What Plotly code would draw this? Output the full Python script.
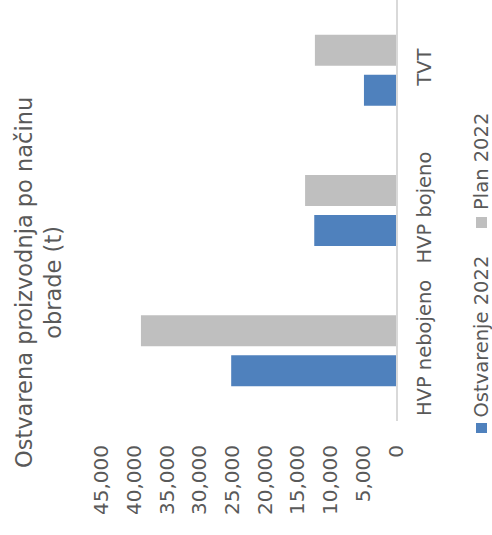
import plotly.graph_objects as go

categories = ["HVP nebojeno", "HVP bojeno", "TVT"]
ostvarenje_2022 = [25200, 12500, 4900]
plan_2022 = [39000, 13900, 12400]
series_names = ["Ostvarenje 2022", "Plan 2022"]
series_colors = ["#4F81BD", "#BFBFBF"]
value_ticks = [0, 5000, 10000, 15000, 20000, 25000, 30000, 35000, 40000, 45000]
title_text = "Ostvarena proizvodnja po načinu<br>obrade (t)"

W, H = 492, 535
FONT = "DejaVu Sans"
GREY = "#595959"

def px(x):
    return x / W

def py(y):
    return 1 - y / H

fig = go.Figure()
for name, vals, col in zip(series_names, [ostvarenje_2022, plan_2022], series_colors):
    fig.add_trace(go.Bar(
        y=categories, x=vals, name=name, orientation="h",
        marker=dict(color=col, line=dict(width=0)), showlegend=False,
    ))

fig.update_layout(
    template="none",
    width=W, height=H,
    margin=dict(l=0, r=0, t=0, b=0, autoexpand=False),
    paper_bgcolor="white", plot_bgcolor="white",
    barmode="group", bargap=0.43, bargroupgap=0.225,
    font=dict(family=FONT, color=GREY, size=20),
    xaxis=dict(
        domain=[px(101.7), px(396)], automargin=False,
        range=[45000, 0], autorange=False,
        tickvals=value_ticks, tickformat=",",
        tickangle=-90, showgrid=False, zeroline=False, showline=False,
        ticks="outside", ticklen=15, tickcolor="rgba(0,0,0,0)",
        tickfont=dict(family=FONT, size=20, color=GREY),
    ),
    yaxis=dict(
        domain=[py(421), 1], automargin=False,
        type="category", range=[-0.5, 2.5], autorange=False,
        side="right", showline=True, linecolor="#D9D9D9", linewidth=1.5,
        showgrid=False, zeroline=False,
        tickangle=-90, ticks="outside", ticklen=10, tickcolor="rgba(0,0,0,0)",
        tickfont=dict(family=FONT, size=19.5, color=GREY),
    ),
)

# Title (rotated)
fig.add_annotation(
    text=title_text, x=px(38), y=py(283), xref="paper", yref="paper",
    xanchor="center", yanchor="middle", textangle=-90, showarrow=False,
    font=dict(family=FONT, size=22.5, color=GREY),
)

# Custom rotated legend
legend_items = [
    (series_names[0], series_colors[0], 336.5, 423, 433),
    (series_names[1], series_colors[1], 162, 217, 228),
]
for name, col, cy, my0, my1 in legend_items:
    fig.add_annotation(
        text=name, x=px(481), y=py(cy), xref="paper", yref="paper",
        xanchor="center", yanchor="middle", textangle=-90, showarrow=False,
        font=dict(family=FONT, size=19.5, color=GREY),
    )
    fig.add_shape(
        type="rect", xref="paper", yref="paper",
        x0=px(476), x1=px(487), y0=py(my1), y1=py(my0),
        fillcolor=col, line=dict(width=0),
    )

fig.write_html(
    "out.html",
    config={"displayModeBar": False, "staticPlot": True},
    post_script="document.body.style.margin='0';document.body.style.padding='0';",
)
